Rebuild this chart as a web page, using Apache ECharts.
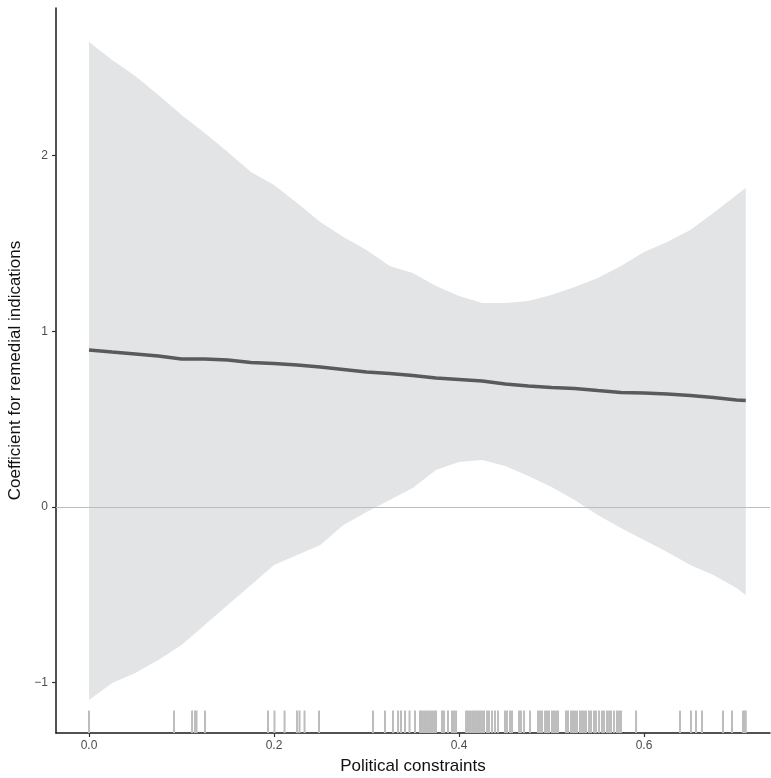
<!DOCTYPE html>
<html>
<head>
<meta charset="utf-8">
<script src="https://cdn.jsdelivr.net/npm/echarts@6/dist/echarts.min.js"></script>
<style>
  html, body { margin: 0; padding: 0; background: #ffffff; }
  #chart { width: 771px; height: 778px; }
</style>
</head>
<body>
<div id="chart"></div>
<script>
// Political constraints (x) sample points
const xs = [0, 0.025, 0.05, 0.075, 0.10, 0.125, 0.15, 0.175, 0.20, 0.225, 0.25, 0.275, 0.30, 0.325,
            0.35, 0.375, 0.40, 0.425, 0.45, 0.475, 0.50, 0.525, 0.55, 0.575, 0.60, 0.625, 0.65,
            0.675, 0.70, 0.71];
// Fitted coefficient
const fit = [0.894, 0.882, 0.871, 0.860, 0.842, 0.842, 0.837, 0.823, 0.817, 0.808, 0.797, 0.783,
             0.768, 0.760, 0.749, 0.734, 0.726, 0.717, 0.700, 0.689, 0.680, 0.675, 0.663, 0.652,
             0.649, 0.643, 0.635, 0.623, 0.609, 0.606];
// Confidence band upper bound
const upper = [2.647, 2.545, 2.453, 2.345, 2.231, 2.129, 2.021, 1.907, 1.833, 1.731, 1.622, 1.537,
               1.463, 1.372, 1.332, 1.258, 1.201, 1.161, 1.161, 1.173, 1.207, 1.252, 1.304, 1.372,
               1.452, 1.508, 1.577, 1.674, 1.776, 1.816];
// Confidence band lower bound
const lower = [-1.099, -1.002, -0.945, -0.871, -0.786, -0.672, -0.558, -0.444, -0.330, -0.273,
               -0.216, -0.102, -0.028, 0.040, 0.108, 0.211, 0.256, 0.268, 0.233, 0.176, 0.114,
               0.040, -0.046, -0.120, -0.188, -0.256, -0.330, -0.387, -0.461, -0.501];
// Observed values (rug)
const rug = [0, 0.0919, 0.1114, 0.1146, 0.1162, 0.1254, 0.1935, 0.2005, 0.2114, 0.2249, 0.2276,
             0.2330, 0.2486, 0.3070, 0.3200, 0.3286, 0.3341, 0.3373, 0.3416, 0.3465, 0.3524,
             0.3578, 0.3600, 0.3622, 0.3643, 0.3665, 0.3686, 0.3708, 0.3730, 0.3751, 0.3816,
             0.3838, 0.3881, 0.3924, 0.3946, 0.3968, 0.4076, 0.4097, 0.4119, 0.4141, 0.4162,
             0.4184, 0.4205, 0.4227, 0.4249, 0.4270, 0.4303, 0.4324, 0.4357, 0.4389, 0.4422,
             0.4497, 0.4519, 0.4551, 0.4573, 0.4649, 0.4670, 0.4703, 0.4768, 0.4854, 0.4876,
             0.4897, 0.4930, 0.4951, 0.4973, 0.5005, 0.5027, 0.5049, 0.5070, 0.5157, 0.5178,
             0.5211, 0.5232, 0.5254, 0.5276, 0.5308, 0.5330, 0.5351, 0.5373, 0.5405, 0.5427,
             0.5459, 0.5481, 0.5514, 0.5546, 0.5568, 0.5600, 0.5622, 0.5643, 0.5676, 0.5708,
             0.5730, 0.5751, 0.5914, 0.6389, 0.6508, 0.6562, 0.6627, 0.6854, 0.6951, 0.7070,
             0.7092, 0.7100];
const xTicks = [0, 0.2, 0.4, 0.6];
const yTicks = [-1, 0, 1, 2];
const xLabel = 'Political constraints';
const yLabel = 'Coefficient for remedial indications';

const X_MIN = -0.0357, X_MAX = 0.7362;
const Y_MIN = -1.2865, Y_MAX = 2.8405;

const chart = echarts.init(document.getElementById('chart'), null, { renderer: 'canvas' });
const FONT = '"Liberation Sans", Arial, Helvetica, sans-serif';

const axisCommon = {
  axisLine: { show: true, onZero: false, lineStyle: { color: '#1a1a1a', width: 1.5 } },
  axisTick: { show: true, length: 4, lineStyle: { color: '#333333', width: 1.2 } },
  splitLine: { show: false },
  nameTextStyle: { fontFamily: FONT, fontSize: 17, color: '#111111' }
};

chart.setOption({
  animation: false,
  backgroundColor: '#ffffff',
  grid: { left: 56, right: 1, top: 8, bottom: 45, containLabel: false, outerBoundsMode: 'none' },
  xAxis: Object.assign({}, axisCommon, {
    type: 'value', min: X_MIN, max: X_MAX,
    name: xLabel, nameLocation: 'middle', nameGap: 25,
    axisTick: Object.assign({}, axisCommon.axisTick, { customValues: xTicks }),
    axisLabel: { customValues: xTicks, margin: 7, fontFamily: FONT, fontSize: 12, color: '#4d4d4d',
                 formatter: v => v.toFixed(1) }
  }),
  yAxis: Object.assign({}, axisCommon, {
    type: 'value', min: Y_MIN, max: Y_MAX,
    name: yLabel, nameLocation: 'middle', nameGap: 30, nameRotate: 90,
    axisTick: Object.assign({}, axisCommon.axisTick, { customValues: yTicks }),
    axisLabel: { customValues: yTicks, margin: 8, fontFamily: FONT, fontSize: 12, color: '#4d4d4d',
                 formatter: v => (v < 0 ? '\u2212' + Math.abs(v) : String(v)) }
  }),
  series: [
    {
      type: 'custom',
      z: 1,
      silent: true,
      data: xs.map((x, i) => [x, upper[i], lower[i]]),
      renderItem: function (params, api) {
        if (params.dataIndex !== 0) return null;
        const pts = [];
        for (let i = 0; i < xs.length; i++) pts.push(api.coord([xs[i], upper[i]]));
        for (let i = xs.length - 1; i >= 0; i--) pts.push(api.coord([xs[i], lower[i]]));
        return { type: 'polygon', shape: { points: pts }, style: { fill: '#e3e4e6' } };
      }
    },
    {
      type: 'line',
      z: 3,
      silent: true,
      showSymbol: false,
      data: xs.map((x, i) => [x, fit[i]]),
      lineStyle: { color: '#5a5a5a', width: 3.5 },
      markLine: {
        silent: true,
        symbol: ['none', 'none'],
        label: { show: false },
        lineStyle: { color: '#bdbdbd', width: 1, type: 'solid' },
        data: [{ yAxis: 0 }],
        z: 2
      }
    },
    {
      type: 'custom',
      z: 2,
      silent: true,
      data: rug.map(v => [v]),
      renderItem: function (params, api) {
        const p = api.coord([api.value(0), Y_MIN]);
        const h = params.coordSys.height * 0.031;
        return {
          type: 'line',
          shape: { x1: p[0], y1: p[1], x2: p[0], y2: p[1] - h },
          style: { stroke: '#bdbdbd', lineWidth: 2 }
        };
      }
    }
  ]
});
</script>
</body>
</html>
